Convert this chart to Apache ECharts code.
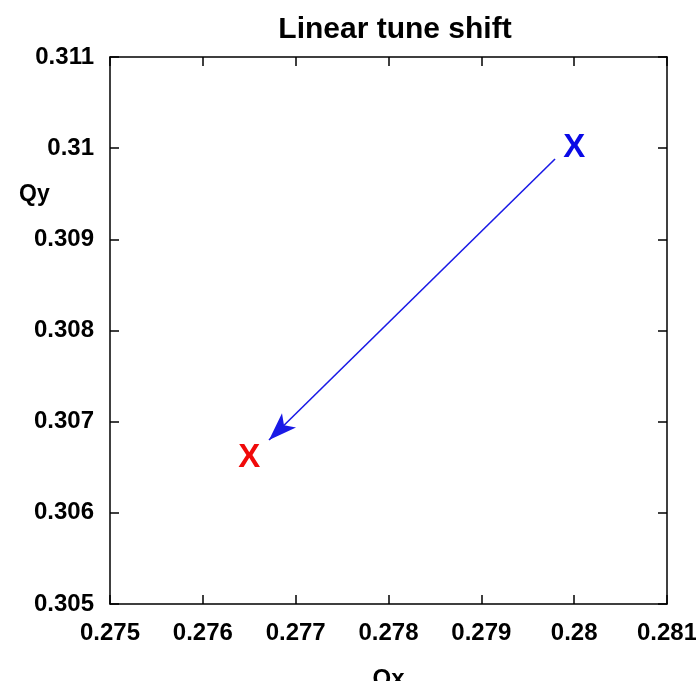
<!DOCTYPE html>
<html>
<head>
<meta charset="utf-8">
<script src="https://cdn.jsdelivr.net/npm/echarts@6/dist/echarts.min.js"></script>
<style>
    html, body { margin: 0; padding: 0; background: #fff; }
    #chart { width: 696px; height: 681px; }
</style>
</head>
<body>
<div id="chart"></div>
<script>
// Data
var xRange = [0.275, 0.281];
var yRange = [0.305, 0.311];
var tickStep = 0.001;

// Tune points: before (blue) and after (red) the shift
var startTune = [0.28, 0.31];
var endTune = [0.2765, 0.3066];

// Arrow from the old tune to the new one
var arrowFrom = [0.279794, 0.309881];
var arrowTo = [0.276713, 0.306799];

var font = '"Liberation Sans Narrow", "Liberation Sans", Arial, sans-serif';

var fmt = function (v) {
    return String(parseFloat(v.toFixed(4)));
};

var chart = echarts.init(document.getElementById('chart'));

var tickStyle = { show: true, inside: true, length: 9, lineStyle: { color: '#000', width: 1.5 } };
var lineStyle = { show: true, lineStyle: { color: '#000', width: 1.5 } };

chart.setOption({
    animation: false,

    // Title
    title: {
        text: 'Linear tune shift',
        left: 390,
        textAlign: 'center',
        top: 10,
        textStyle: {
            fontFamily: font,
            fontSize: 30,
            fontWeight: 'bold',
            color: '#000'
        }
    },

    grid: {
        left: 110,
        right: 29,
        top: 57,
        bottom: 77,
        outerBoundsMode: 'none'
    },

    // Qy label
    graphic: [{
        type: 'text',
        left: 19,
        top: 183,
        style: {
            text: 'Qy',
            font: 'bold 23px ' + font,
            fill: '#000'
        }
    }],

    xAxis: [{
        type: 'value',
        min: xRange[0],
        max: xRange[1],
        interval: tickStep,
        name: 'Qx',
        nameLocation: 'middle',
        nameGap: 63,
        nameTextStyle: { fontFamily: font, fontSize: 24, fontWeight: 'bold', color: '#000' },
        axisLine: lineStyle,
        axisTick: tickStyle,
        splitLine: { show: false },
        axisLabel: {
            margin: 17,
            fontFamily: font,
            fontSize: 24,
            fontWeight: 'bold',
            color: '#000',
            formatter: fmt
        }
    }, {
        type: 'value',
        position: 'top',
        min: xRange[0],
        max: xRange[1],
        interval: tickStep,
        axisLine: lineStyle,
        axisTick: tickStyle,
        splitLine: { show: false },
        axisLabel: { show: false }
    }],

    yAxis: [{
        type: 'value',
        min: yRange[0],
        max: yRange[1],
        interval: tickStep,
        axisLine: lineStyle,
        axisTick: tickStyle,
        splitLine: { show: false },
        axisLabel: {
            margin: 16,
            fontFamily: font,
            fontSize: 24,
            fontWeight: 'bold',
            color: '#000',
            formatter: fmt
        }
    }, {
        type: 'value',
        position: 'right',
        min: yRange[0],
        max: yRange[1],
        interval: tickStep,
        axisLine: lineStyle,
        axisTick: tickStyle,
        splitLine: { show: false },
        axisLabel: { show: false }
    }],

    series: [{
        name: 'start',
        type: 'scatter',
        symbolSize: 1,
        itemStyle: { color: 'transparent', opacity: 1 },
        label: {
            show: true,
            position: 'inside',
            formatter: 'X',
            fontFamily: font,
            fontSize: 33,
            fontWeight: 'bold',
            color: '#0a0ae6',
            opacity: 1
        },
        data: [startTune],
        markLine: {
            silent: true,
            symbol: ['none', 'arrow'],
            symbolSize: [15, 28],
            label: { show: false },
            lineStyle: { color: '#1a1ae6', width: 1.6, type: 'solid', opacity: 1 },
            data: [[{ coord: arrowFrom }, { coord: arrowTo }]]
        }
    }, {
        name: 'end',
        type: 'scatter',
        symbolSize: 1,
        itemStyle: { color: 'transparent', opacity: 1 },
        label: {
            show: true,
            position: 'inside',
            formatter: 'X',
            fontFamily: font,
            fontSize: 33,
            fontWeight: 'bold',
            color: '#f00a0a',
            opacity: 1
        },
        data: [endTune]
    }]
});
</script>
</body>
</html>
